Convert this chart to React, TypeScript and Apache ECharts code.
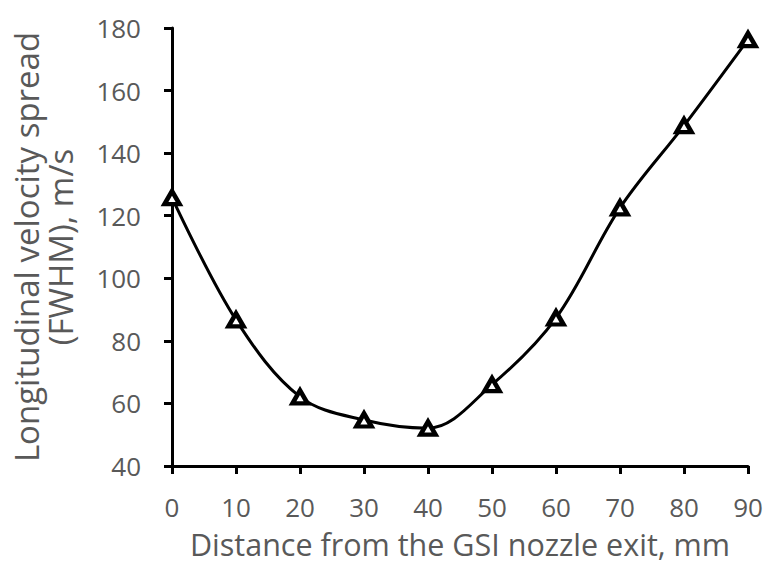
import React, { useEffect, useRef } from "react";
import * as echarts from "echarts";

const distances = [0, 10, 20, 30, 40, 50, 60, 70, 80, 90];
const spreadValues = [125.8, 86.7, 62.1, 54.7, 52.1, 66.0, 87.3, 122.5, 148.8, 176.3];
const xAxisTitle = "Distance from the GSI nozzle exit, mm";
const yAxisTitle = "Longitudinal velocity spread\n(FWHM), m/s";

const FONT = "'Open Sans', 'Liberation Sans', sans-serif";
const GREY = "#595959";

export default function App() {
  const ref = useRef<HTMLDivElement>(null);
  useEffect(() => {
    if (!ref.current) return;
    const chart = echarts.init(ref.current, undefined, { renderer: "svg" });
    chart.setOption({
      animation: false,
      backgroundColor: "#ffffff",
      grid: { left: 172, right: 19, top: 28, bottom: 99, containLabel: false, outerBoundsMode: "none" },
      xAxis: {
        type: "value",
        min: 0,
        max: 90,
        interval: 10,
        name: xAxisTitle,
        nameLocation: "middle",
        nameGap: 62,
        nameTextStyle: { fontFamily: FONT, fontSize: 30.5, color: GREY, lineHeight: 31, verticalAlign: "top" },
        axisLine: { show: true, onZero: false, lineStyle: { color: "#000", width: 3 } },
        axisTick: { show: true, inside: false, length: 8, lineStyle: { color: "#000", width: 3 } },
        axisLabel: { margin: 28, fontFamily: FONT, fontSize: 26, color: GREY, lineHeight: 26 },
        splitLine: { show: false },
      },
      yAxis: {
        type: "value",
        min: 40,
        max: 180,
        interval: 20,
        name: yAxisTitle,
        nameLocation: "middle",
        nameGap: 95,
        nameTextStyle: { fontFamily: FONT, fontSize: 33, color: GREY, lineHeight: 34 },
        axisLine: { show: true, onZero: false, lineStyle: { color: "#000", width: 3 } },
        axisTick: { show: true, inside: false, length: 8, lineStyle: { color: "#000", width: 3 } },
        axisLabel: { margin: 31, fontFamily: FONT, fontSize: 26, color: GREY },
        splitLine: { show: false },
      },
      series: [
        {
          type: "line",
          data: distances.map((d, i) => [d, spreadValues[i]]),
          smooth: 0.35,
          symbol: "triangle",
          symbolSize: [15, 13],
          showAllSymbol: true,
          lineStyle: { color: "#000", width: 3 },
          itemStyle: { color: "#ffffff", borderColor: "#000", borderWidth: 4.5 },
          z: 3,
        },
      ],
    });
    return () => chart.dispose();
  }, []);
  return (
    <div
      ref={ref}
      style={{ position: "fixed", left: 0, top: 0, width: 767, height: 565 }}
    />
  );
}
